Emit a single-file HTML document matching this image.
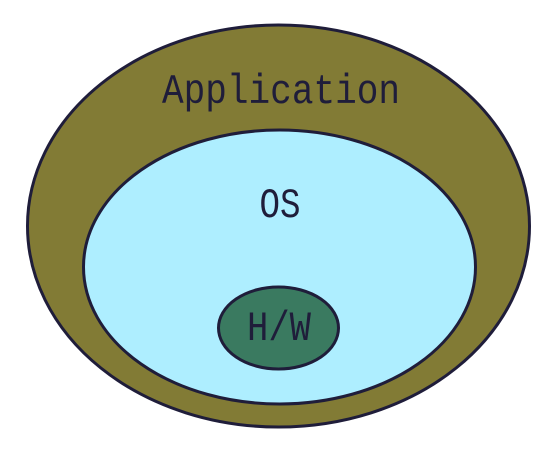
<!DOCTYPE html>
<html><head><style>
html,body{margin:0;padding:0;background:#fff;width:550px;height:450px;overflow:hidden}
</style></head><body>
<svg width="550" height="450" viewBox="0 0 550 450" xmlns="http://www.w3.org/2000/svg">
<ellipse cx="278.5" cy="226" rx="251" ry="201" fill="#827B35" stroke="#1f1d3a" stroke-width="3"/>
<ellipse cx="279.5" cy="267" rx="196" ry="137" fill="#AEEEFF" stroke="#1f1d3a" stroke-width="3"/>
<ellipse cx="278.5" cy="328" rx="60" ry="41" fill="#3A7A60" stroke="#1f1d3a" stroke-width="3"/>
<g font-family="'Liberation Mono','DejaVu Sans Mono',monospace" font-size="42" fill="#1f1d3a" text-anchor="middle" lengthAdjust="spacingAndGlyphs">
<text x="281" y="103" textLength="238" lengthAdjust="spacingAndGlyphs">Application</text>
<text x="280" y="217" textLength="41" lengthAdjust="spacingAndGlyphs">OS</text>
<text x="279" y="340" textLength="64" lengthAdjust="spacingAndGlyphs">H/W</text>
</g>
</svg>
</body></html>
